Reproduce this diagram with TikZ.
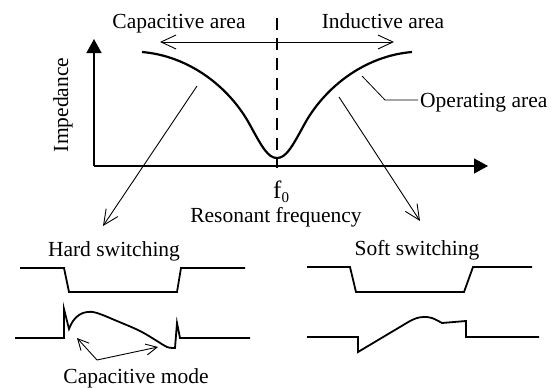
\documentclass[tikz,border=0pt]{standalone}
\usepackage{fontspec}
\setmainfont{Liberation Serif}
\usetikzlibrary{arrows.meta}
\begin{document}
\begin{tikzpicture}[x=1pt,y=-1pt,
  lbl/.style={font=\fontsize{21.5}{25}\selectfont, inner sep=0pt, anchor=base},
  axisline/.style={line width=1.3pt, -{Triangle[length=14pt,width=15pt]}},
  thinarrow/.style={line width=0.9pt, -{Straight Barb[length=15pt,width=14pt]}},
  dblarrow/.style={line width=0.9pt, {Straight Barb[length=15pt,width=14pt]}-{Straight Barb[length=15pt,width=14pt]}},
  smallarrow/.style={line width=0.9pt, -{Straight Barb[length=11pt,width=11pt]}},
  leader/.style={line width=0.8pt},
  wave/.style={line width=1.8pt, line join=miter},
  mcurve/.style={line width=2.2pt, line join=round},
  dashline/.style={line width=1.8pt, dash pattern=on 12pt off 8pt}]
\useasboundingbox (0,0) rectangle (554,388);

% axes
\coordinate (O) at (94,166);
\coordinate (ytip) at (94,39);
\coordinate (xtip) at (488,166);
\draw[axisline] (O) -- (ytip);
\draw[axisline] (O) -- (xtip);

% impedance curve
\coordinate (cL) at (142,52);
\coordinate (iL) at (250,125);
\coordinate (cB) at (277,158);
\coordinate (iR) at (304,125);
\coordinate (cR) at (412,52);
\draw[mcurve] (cL) .. controls (190,56) and (230,88) .. (iL)
  .. controls (262,147) and (268,158) .. (cB)
  .. controls (286,158) and (292,147) .. (iR)
  .. controls (324,88) and (364,56) .. (cR);

% dashed resonance line
\coordinate (dtop) at (277,18);
\coordinate (dbot) at (277,168);
\draw[dashline] (dtop) -- (dbot);

% double arrow
\coordinate (aL) at (160,42);
\coordinate (aR) at (394,42);
\draw[dblarrow] (aL) -- (aR);

% labels
\node[lbl] (cap) at (179,28) {Capacitive area};
\node[lbl] (ind) at (383,28) {Inductive area};
\node[lbl, anchor=center, rotate=90] (imp) at (63,105) {Impedance};
\node[lbl, anchor=base west] (op) at (420,107) {Operating area};
\node[inner sep=0pt, anchor=base west, font=\fontsize{25}{28}\selectfont] (f0) at (273,198) {f\raisebox{-4pt}{\fontsize{15}{15}\selectfont 0}};
\node[lbl] (res) at (276,222) {Resonant frequency};
\node[lbl] (hard) at (114,256) {Hard switching};
\node[lbl] (soft) at (417,255) {Soft switching};
\node[lbl] (cmode) at (136,383) {Capacitive mode};

% operating area leader
\coordinate (op1) at (362,76);
\coordinate (op2) at (385,100);
\coordinate (op3) at (418,100);
\draw[leader] (op1) -- (op2) -- (op3);

% arrows to waveforms
\coordinate (la1) at (197,86);
\coordinate (la2) at (103,226);
\draw[thinarrow] (la1) -- (la2);
\coordinate (ra1) at (339,97);
\coordinate (ra2) at (420,221);
\draw[thinarrow] (ra1) -- (ra2);

% hard switching waveforms
\draw[wave] (20,268) -- (64,268) -- (69,292) -- (177,292) -- (181,268) -- (245,268);
\draw[wave] (15,338) -- (64,338) -- (64,309) -- (69,329)
  -- plot[smooth, tension=0.6] coordinates {(69,329) (73,321) (79,315) (87,312) (97,313) (117,321) (140,331) (157,341) (167,347) (175,348)}
  -- (177,323) -- (180,338) -- (250,338);

% capacitive mode arrows
\coordinate (cv) at (97,360);
\coordinate (ct1) at (77,338);
\coordinate (ct2) at (158,347);
\draw[smallarrow] (cv) -- (ct1);
\draw[smallarrow] (cv) -- (ct2);

% soft switching waveforms
\draw[wave] (307,267) -- (350,267) -- (356,292) -- (464,292) -- (473,267) -- (532,267);
\draw[wave] (307,337) -- (358,337) -- (358,352) -- (410,321)
  -- plot[smooth, tension=0.6] coordinates {(410,321) (417,318) (424,317) (432,318) (442,323)}
  -- (466,321) -- (466,337) -- (539,337);
\end{tikzpicture}
\end{document}
